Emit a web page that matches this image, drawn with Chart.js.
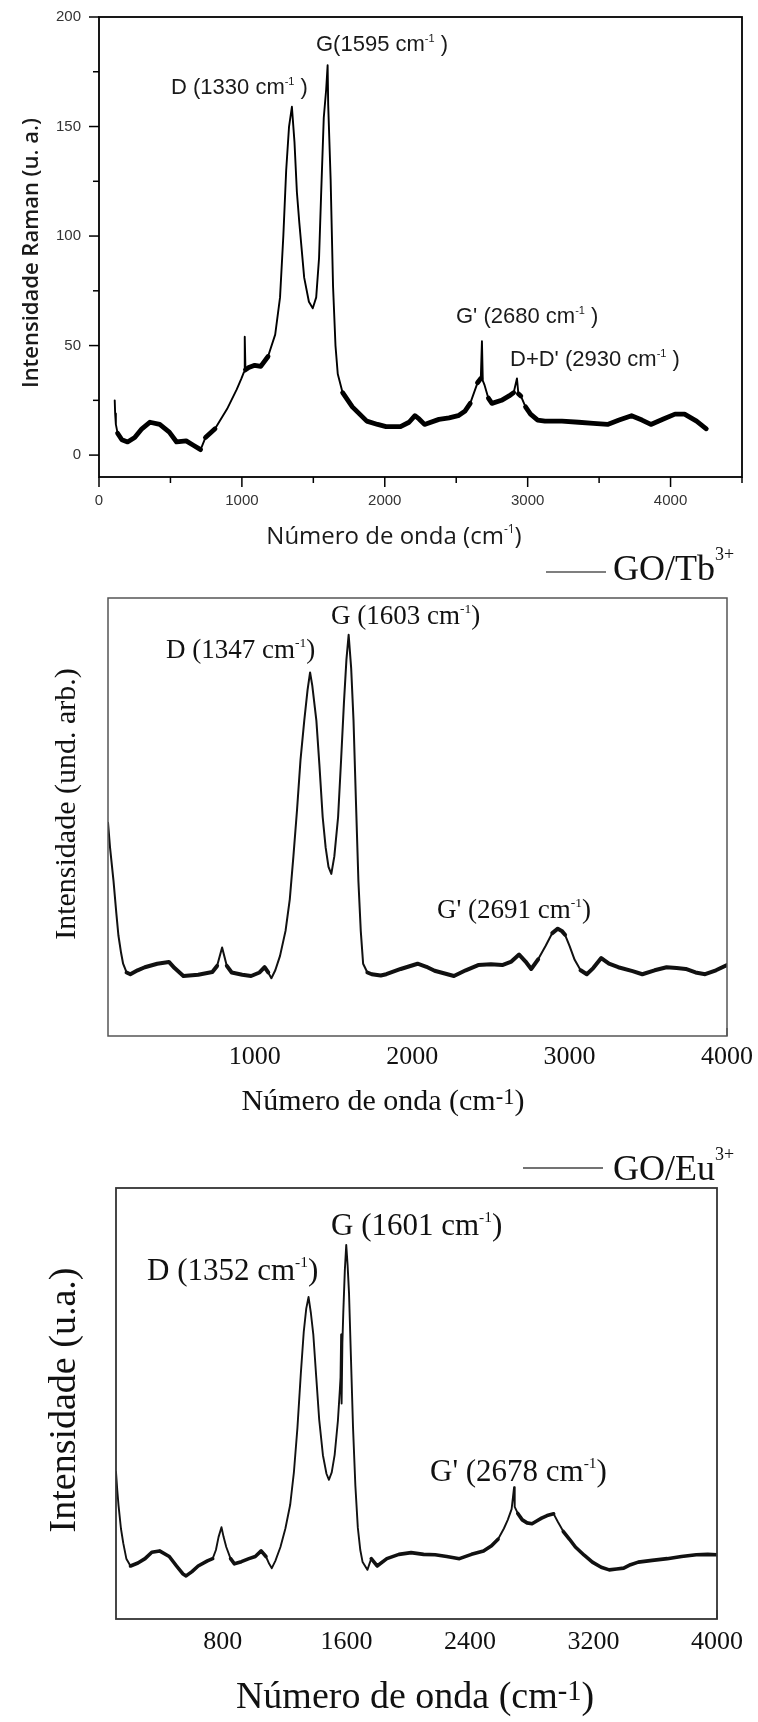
<!DOCTYPE html>
<html><head><meta charset="utf-8">
<script src="https://cdn.jsdelivr.net/npm/chart.js@4.4.1/dist/chart.umd.min.js"></script>
<style>
html,body{margin:0;padding:0;background:#fff;}
#wrap{position:relative;width:758px;height:1722px;overflow:hidden;}
canvas{position:absolute;left:0;}
</style></head><body>
<div id="wrap">
<canvas id="c1" width="758" height="560" style="top:0px"></canvas>
<canvas id="c2" width="758" height="590" style="top:530px"></canvas>
<canvas id="c3" width="758" height="602" style="top:1120px"></canvas>
</div>
<script>
// ---- Panel 1: GO (Raman intensity, u. a.) ----
const goX = [110,113,118,130,160,200,250,300,357,425,492,543,610,660,711,745,812,896,964,997,1015,1020,1025,1048,1090,1132,1183,1233,1267,1290,1310,1330,1350,1368,1385,1402,1436,1469,1496,1520,1540,1554,1573,1590,1600,1604,1621,1638,1655,1671,1705,1773,1874,1950,2009,2110,2170,2211,2240,2278,2379,2450,2514,2560,2598,2649,2672,2680,2686,2699,2725,2750,2817,2870,2902,2925,2935,2952,2985,3020,3070,3121,3240,3357,3460,3559,3640,3727,3800,3862,3950,4031,4098,4182,4250];
const goY = [25,19,14,10,7,6,8,12,15,14,10.5,6,6.5,4.5,2.5,8,12,21,30,35,38,54,39,40,41,40.5,45,55,72,100,130,150,159,143,120,106,81,70,67,72,90,118,154,167,178,160,126,77,50,37,28.5,22,15.5,14,13,13,15,18,16.5,14,16.3,17,18,20,23.6,33,35,52,34,31.8,26,23.6,25,27,28.5,35,28,27,22,18.7,16,15.5,15.5,15,14.5,14,16,18,16,14,16.5,18.7,18.7,15.5,12];
const p1XTickLabels = ['0','1000','2000','3000','4000'];
const p1YTickLabels = ['0','50','100','150','200'];

// ---- Panel 2: GO/Tb3+ (arbitrary units) ----
const tbX = [67,80,102,120,133,150,163,185,209,255,301,380,454,490,546,640,730,760,792,822,853,920,976,1030,1062,1085,1105,1130,1160,1195,1222,1245,1268,1290,1314,1335,1351,1365,1391,1410,1431,1450,1468,1486,1505,1529,1548,1566,1582,1596,1612,1627,1642,1658,1673,1688,1715,1743,1800,1835,1927,2034,2090,2142,2265,2340,2419,2500,2572,2630,2679,2720,2756,2800,2848,2890,2925,2950,2971,3000,3032,3070,3109,3150,3201,3250,3309,3400,3462,3540,3616,3680,3738,3800,3861,3930,4000];
const tbY = [48.7,43,35.4,28,23,19,16.5,14.5,14.1,15,15.7,16.5,16.9,15.5,13.7,14,14.6,16,20.2,16,14.5,14,13.7,14.5,15.7,14.5,13.2,15,18.3,24,31.2,41,51.6,63,72,79,83,80,72,62,50,43,38.6,37,41,50,63,76,86,91.6,84,72,54,35.4,24,16.5,14.5,14.1,13.8,14.1,15.3,16.5,15.8,14.9,13.7,15,16.2,16.4,16.2,17,18.6,17,15.3,17.5,20.6,23.5,24.5,24,23.1,20.5,17.4,15,14.1,15.5,17.8,16.5,15.7,14.8,14.1,15,15.7,15.5,15.3,14.5,14.1,15,16.2];
const p2XTickLabels = ['1000','2000','3000','4000'];

// ---- Panel 3: GO/Eu3+ (u.a.) ----
const euX = [108,116,124,140,155,175,202,250,296,340,390,453,500,540,562,600,640,700,734,755,772,791,805,822,850,875,920,969,1010,1048,1079,1100,1117,1140,1173,1205,1236,1260,1283,1305,1324,1340,1355,1370,1386,1405,1424,1448,1471,1487,1505,1524,1545,1558,1562,1566,1569,1574,1580,1590,1599,1608,1617,1630,1643,1658,1674,1690,1705,1736,1761,1799,1862,1940,2019,2100,2175,2250,2332,2410,2488,2540,2582,2620,2645,2670,2686,2690,2710,2739,2770,2802,2835,2864,2900,2942,2970,3005,3045,3083,3140,3193,3250,3302,3350,3396,3440,3490,3580,3678,3770,3866,3940,4000];
const euY = [34.1,30,26.5,21,17.6,14,12.3,13,14,15.5,15.8,14.5,12.3,10.5,10,11,12.3,13.5,14,16,19,21.3,19,16.7,14,12.8,13.3,14,14.5,15.8,14.5,12.8,11.8,13.5,16.7,21,26.5,34,44.4,57,66.7,72,74.7,71,65.9,56,46.2,38,33.7,32.3,34,38.1,46,53.4,56,66,50,64,71.2,81,86.8,82,75.6,60,44.4,31,21.2,16,13.2,11.4,14,12.3,14,15,15.4,15,14.9,14.5,14,15,15.8,17,18.5,21,23,25.5,30.6,26,24.5,23,22.3,22.1,22.8,23.4,24,24.4,22.5,20.3,18.5,16.7,14.8,13.2,12,11.4,11.6,11.8,12.6,13.2,13.6,14,14.5,14.9,15,14.9];
const p3XTickLabels = ['800','1600','2400','3200','4000'];

// ---------- drawing helpers ----------
function drawRich(ctx, it) {
  const w = it.weight || 'normal';
  const widths = it.parts.map(p => {
    const s = p.sup ? it.size * p.sup : it.size;
    ctx.font = w + ' ' + s + 'px ' + it.family;
    return ctx.measureText(p.t).width;
  });
  const total = widths.reduce((a, b) => a + b, 0);
  ctx.save();
  ctx.translate(it.x, it.y);
  if (it.rotate) ctx.rotate(it.rotate);
  let x = it.align === 'center' ? -total / 2 : 0;
  ctx.fillStyle = it.color || '#000';
  ctx.textBaseline = 'alphabetic';
  ctx.textAlign = 'left';
  it.parts.forEach((p, i) => {
    const s = p.sup ? it.size * p.sup : it.size;
    ctx.font = w + ' ' + s + 'px ' + it.family;
    ctx.fillText(p.t, x, p.sup ? -it.size * p.raise : 0);
    x += widths[i];
  });
  ctx.restore();
}

const decor = {
  id: 'decor',
  afterDraw(chart, args, opts) {
    const ctx = chart.ctx, a = chart.chartArea;
    ctx.save();
    (opts.ticks || []).forEach(t => {
      const sc = chart.scales[t.axis];
      ctx.strokeStyle = t.color; ctx.lineWidth = t.width; ctx.lineCap = 'butt';
      sc.ticks.forEach(tk => {
        const v = tk.value;
        const r = v / t.minorStep;
        if (Math.abs(r - Math.round(r)) > 1e-6) return;
        const rm = v / t.majorStep;
        const major = Math.abs(rm - Math.round(rm)) < 1e-6;
        const len = major ? t.major : t.minor;
        const p = sc.getPixelForValue(v);
        ctx.beginPath();
        if (t.axis === 'x') { ctx.moveTo(p, a.bottom); ctx.lineTo(p, a.bottom + t.dir * len); }
        else { ctx.moveTo(a.left, p); ctx.lineTo(a.left - t.dir * len, p); }
        ctx.stroke();
      });
    });
    (opts.labels || []).forEach(L => {
      const sc = chart.scales[L.axis];
      ctx.font = L.font; ctx.fillStyle = L.color;
      L.values.forEach(s => {
        const p = sc.getPixelForValue(Number(s));
        ctx.textBaseline = 'middle';
        if (L.axis === 'x') { ctx.textAlign = 'center'; ctx.fillText(s, p, a.bottom + L.offset); }
        else { ctx.textAlign = 'right'; ctx.fillText(s, a.left - L.offset, p); }
      });
    });
    ctx.strokeStyle = opts.boxColor; ctx.lineWidth = opts.boxWidth;
    ctx.strokeRect(a.left, a.top, a.right - a.left, a.bottom - a.top);
    (opts.lines || []).forEach(l => {
      ctx.strokeStyle = l.color; ctx.lineWidth = l.width;
      ctx.beginPath(); ctx.moveTo(l.x0, l.y0); ctx.lineTo(l.x1, l.y1); ctx.stroke();
    });
    (opts.texts || []).forEach(it => drawRich(ctx, it));
    ctx.restore();
  }
};

function makeChart(id, xs, ys, cfg) {
  const pts = xs.map((x, i) => ({ x: x, y: ys[i] }));
  return new Chart(document.getElementById(id), {
    type: 'line',
    data: { datasets: [{
      data: pts, borderColor: cfg.lineColor, borderWidth: cfg.thick, pointRadius: 0,
      tension: 0, fill: false, borderJoinStyle: 'round', borderCapStyle: 'round',
      segment: { borderWidth: c => {
        const dx = Math.abs(c.p1.x - c.p0.x), dy = Math.abs(c.p1.y - c.p0.y);
        return dy > 1.6 * dx ? cfg.thin : cfg.thick;
      } }
    }] },
    options: {
      responsive: false, animation: false, devicePixelRatio: 1,
      layout: { padding: cfg.padding },
      plugins: { legend: { display: false }, tooltip: { enabled: false }, decor: cfg.decor },
      scales: {
        x: {
          type: 'linear', min: cfg.xMin, max: cfg.xMax,
          afterFit: s => { s.height = cfg.xAxisH; },
          grid: { display: false, drawTicks: false }, border: { display: false },
          ticks: { display: false, stepSize: cfg.xStep, autoSkip: false, maxRotation: 0, includeBounds: false }
        },
        y: cfg.yAxis
      }
    },
    plugins: [decor]
  });
}

// ---------- Panel 1 ----------
const sans = '"Liberation Sans", Arial, sans-serif';
const sup1 = { t: '-1', sup: 0.5, raise: 0.40 };
makeChart('c1', goX, goY, {
  lineColor: '#000', thick: 4.8, thin: 1.9,
  padding: { left: 0, right: 16, top: 17, bottom: 0 }, xAxisH: 83,
  xMin: 0, xMax: 4500, xStep: 500,
  yAxis: {
    type: 'linear', min: -10, max: 200,
    afterFit: s => { s.width = 99; },
    grid: { display: false, drawTicks: false }, border: { display: false },
    ticks: { display: false, stepSize: 25, autoSkip: false, includeBounds: false }
  },
  decor: {
    boxColor: '#000', boxWidth: 1.8,
    ticks: [
      { axis: 'x', minorStep: 500, majorStep: 1000, major: 10, minor: 6, dir: 1, color: '#000', width: 1.5 },
      { axis: 'y', minorStep: 25, majorStep: 50, major: 10, minor: 6, dir: 1, color: '#000', width: 1.5 }
    ],
    labels: [
      { axis: 'x', values: p1XTickLabels, font: '15px ' + sans, color: '#333', offset: 24 },
      { axis: 'y', values: p1YTickLabels, font: '15px ' + sans, color: '#333', offset: 18 }
    ],
    texts: [
      { x: 38, y: 253, rotate: -Math.PI / 2, align: 'center', family: '"Open Sans", sans-serif', weight: '600', size: 22, color: '#1a1a1a',
        parts: [{ t: 'Intensidade Raman (u. a.)' }] },
      { x: 394, y: 544, align: 'center', family: '"Open Sans", sans-serif', size: 24, color: '#1a1a1a',
        parts: [{ t: 'Número de onda (cm' }, { t: '-1', sup: 0.5, raise: 0.45 }, { t: ')' }] },
      { x: 171, y: 94, family: sans, size: 22, color: '#1a1a1a', parts: [{ t: 'D (1330 cm' }, sup1, { t: ' )' }] },
      { x: 316, y: 51, family: sans, size: 22, color: '#1a1a1a', parts: [{ t: 'G(1595 cm' }, sup1, { t: ' )' }] },
      { x: 456, y: 323, family: sans, size: 22, color: '#1a1a1a', parts: [{ t: "G' (2680 cm" }, sup1, { t: ' )' }] },
      { x: 510, y: 366, family: sans, size: 22, color: '#1a1a1a', parts: [{ t: "D+D' (2930 cm" }, sup1, { t: ' )' }] }
    ]
  }
});

// ---------- Panel 2 ----------
const serif = '"Liberation Serif", "Times New Roman", serif';
const sup2 = { t: '-1', sup: 0.5, raise: 0.42 };
makeChart('c2', tbX, tbY, {
  lineColor: '#111', thick: 4.0, thin: 2.0,
  padding: { left: 108, right: 31, top: 68, bottom: 0 }, xAxisH: 84,
  xMin: 67, xMax: 4000, xStep: 500,
  yAxis: { type: 'linear', min: 0, max: 100, display: false },
  decor: {
    boxColor: '#555', boxWidth: 1.5,
    ticks: [ { axis: 'x', minorStep: 500, majorStep: 1000, major: 8, minor: 4, dir: -1, color: '#555', width: 1.5 } ],
    labels: [ { axis: 'x', values: p2XTickLabels, font: '26px ' + serif, color: '#111', offset: 21 } ],
    lines: [ { x0: 546, y0: 42, x1: 606, y1: 42, color: '#555', width: 1.5 } ],
    texts: [
      { x: 75, y: 274, rotate: -Math.PI / 2, align: 'center', family: serif, size: 30, color: '#111',
        parts: [{ t: 'Intensidade (und. arb.)' }] },
      { x: 383, y: 580, align: 'center', family: serif, size: 30, color: '#111',
        parts: [{ t: 'Número de onda (cm' }, { t: '-1', sup: 0.75, raise: 0.2 }, { t: ')' }] },
      { x: 166, y: 128, family: serif, size: 27, color: '#111', parts: [{ t: 'D (1347 cm' }, sup2, { t: ')' }] },
      { x: 331, y: 94, family: serif, size: 27, color: '#111', parts: [{ t: 'G (1603 cm' }, sup2, { t: ')' }] },
      { x: 437, y: 388, family: serif, size: 27, color: '#111', parts: [{ t: "G' (2691 cm" }, sup2, { t: ')' }] },
      { x: 613, y: 50, family: serif, size: 36, color: '#111', parts: [{ t: 'GO/Tb' }, { t: '3+', sup: 0.5, raise: 0.55 }] }
    ]
  }
});

// ---------- Panel 3 ----------
makeChart('c3', euX, euY, {
  lineColor: '#111', thick: 3.6, thin: 1.9,
  padding: { left: 116, right: 41, top: 68, bottom: 0 }, xAxisH: 103,
  xMin: 108, xMax: 4000, xStep: 400,
  yAxis: { type: 'linear', min: 0, max: 100, display: false },
  decor: {
    boxColor: '#333', boxWidth: 1.8,
    ticks: [ { axis: 'x', minorStep: 400, majorStep: 800, major: 9, minor: 4, dir: -1, color: '#333', width: 1.5 } ],
    labels: [ { axis: 'x', values: p3XTickLabels, font: '26px ' + serif, color: '#111', offset: 23 } ],
    lines: [ { x0: 523, y0: 48, x1: 603, y1: 48, color: '#444', width: 1.5 } ],
    texts: [
      { x: 75, y: 280, rotate: -Math.PI / 2, align: 'center', family: serif, size: 38, color: '#111',
        parts: [{ t: 'Intensidade (u.a.)' }] },
      { x: 415, y: 588, align: 'center', family: serif, size: 38, color: '#111',
        parts: [{ t: 'Número de onda (cm' }, { t: '-1', sup: 0.75, raise: 0.2 }, { t: ')' }] },
      { x: 147, y: 160, family: serif, size: 31, color: '#111', parts: [{ t: 'D (1352 cm' }, sup2, { t: ')' }] },
      { x: 331, y: 115, family: serif, size: 31, color: '#111', parts: [{ t: 'G (1601 cm' }, sup2, { t: ')' }] },
      { x: 430, y: 361, family: serif, size: 31, color: '#111', parts: [{ t: "G' (2678 cm" }, sup2, { t: ')' }] },
      { x: 613, y: 60, family: serif, size: 36, color: '#111', parts: [{ t: 'GO/Eu' }, { t: '3+', sup: 0.5, raise: 0.55 }] }
    ]
  }
});
</script>
</body></html>
